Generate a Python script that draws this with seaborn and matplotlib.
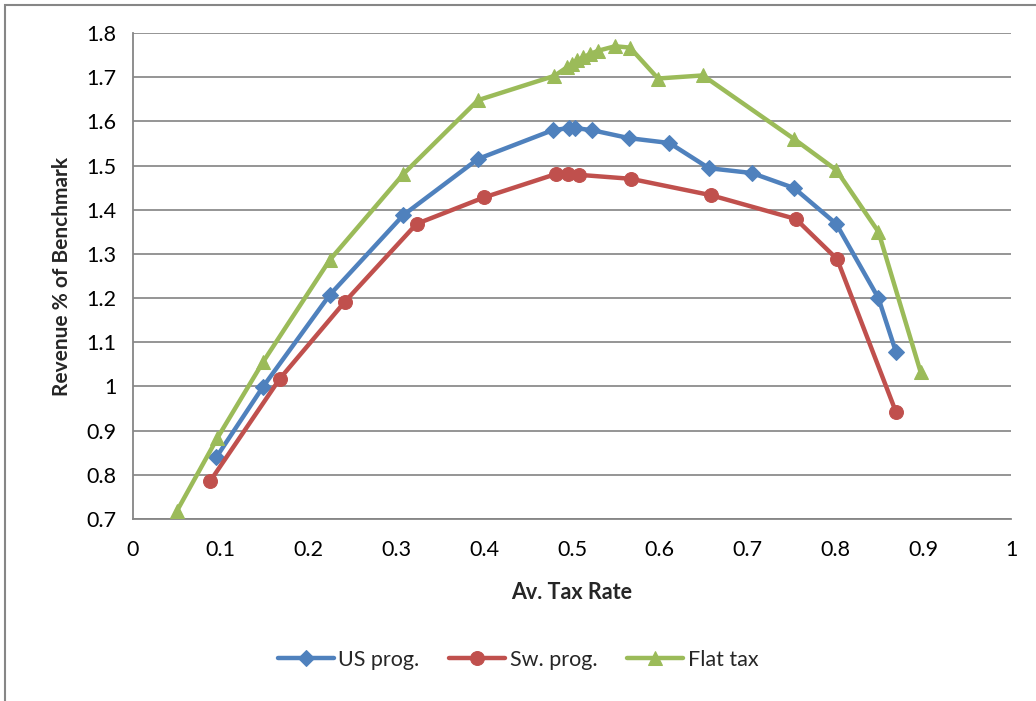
import numpy as np
import pandas as pd
import matplotlib
matplotlib.use("Agg")
import matplotlib.pyplot as plt
import seaborn as sns
from matplotlib.patches import Rectangle

# Data
us_x = [0.095, 0.148, 0.224, 0.308, 0.393, 0.478, 0.497, 0.503, 0.523, 0.565,
        0.611, 0.656, 0.705, 0.753, 0.801, 0.849, 0.869]
us_y = [0.840, 0.999, 1.207, 1.388, 1.515, 1.580, 1.585, 1.585, 1.580, 1.562,
        1.551, 1.494, 1.483, 1.449, 1.368, 1.200, 1.078]

sw_x = [0.088, 0.167, 0.241, 0.323, 0.400, 0.482, 0.495, 0.508, 0.567, 0.658,
        0.755, 0.802, 0.869]
sw_y = [0.786, 1.017, 1.191, 1.368, 1.428, 1.481, 1.481, 1.479, 1.470, 1.433,
        1.379, 1.288, 0.942]

flat_x = [0.050, 0.096, 0.148, 0.224, 0.308, 0.393, 0.480, 0.494, 0.500, 0.506,
          0.513, 0.520, 0.530, 0.549, 0.566, 0.598, 0.649, 0.753, 0.801, 0.849,
          0.897]
flat_y = [0.718, 0.883, 1.055, 1.286, 1.481, 1.648, 1.703, 1.722, 1.730, 1.738,
          1.745, 1.752, 1.760, 1.770, 1.767, 1.697, 1.704, 1.560, 1.490, 1.350,
          1.033]

series_names = ["US prog.", "Sw. prog.", "Flat tax"]
x_ticks = [0, 0.1, 0.2, 0.3, 0.4, 0.5, 0.6, 0.7, 0.8, 0.9, 1]
x_labels = ["0", "0.1", "0.2", "0.3", "0.4", "0.5", "0.6", "0.7", "0.8", "0.9", "1"]
y_ticks = [0.7, 0.8, 0.9, 1.0, 1.1, 1.2, 1.3, 1.4, 1.5, 1.6, 1.7, 1.8]
y_labels = ["0.7", "0.8", "0.9", "1", "1.1", "1.2", "1.3", "1.4", "1.5", "1.6", "1.7", "1.8"]

df = pd.concat([
    pd.DataFrame({"x": us_x, "y": us_y, "Series": series_names[0]}),
    pd.DataFrame({"x": sw_x, "y": sw_y, "Series": series_names[1]}),
    pd.DataFrame({"x": flat_x, "y": flat_y, "Series": series_names[2]}),
])

sns.set_style("white")
plt.rcParams["font.family"] = ["Lato", "DejaVu Sans"]

palette = {"US prog.": "#4F81BD", "Sw. prog.": "#C0504D", "Flat tax": "#9BBB59"}
markers = {"US prog.": "D", "Sw. prog.": "o", "Flat tax": "^"}
msizes = {"US prog.": 8, "Sw. prog.": 10, "Flat tax": 10}

fig = plt.figure(figsize=(10.36, 7.01), dpi=100)
ax = fig.add_axes([133 / 1036, 1 - 519 / 701, 878 / 1036, 486 / 701])

for name in series_names:
    sub = df[df["Series"] == name]
    sns.lineplot(data=sub, x="x", y="y", ax=ax, color=palette[name],
                 marker=markers[name], markersize=msizes[name],
                 markeredgecolor=palette[name], linewidth=3.2,
                 estimator=None, sort=False, label=name, zorder=3)

ax.set_xlim(0, 1)
ax.set_ylim(0.7, 1.8)
ax.set_xticks(x_ticks)
ax.set_xticklabels(x_labels)
ax.set_yticks(y_ticks)
ax.set_yticklabels(y_labels)
ax.tick_params(axis="both", labelsize=15.5, direction="out", length=5,
               width=1, color="#868686", labelcolor="black")
ax.tick_params(axis="x", pad=10)
ax.tick_params(axis="y", pad=7)
ax.yaxis.grid(True, color="#8c8c8c", linewidth=1.3)
ax.xaxis.grid(False)
for side in ["top", "right"]:
    ax.spines[side].set_visible(False)
for side in ["left", "bottom"]:
    ax.spines[side].set_color("#868686")
    ax.spines[side].set_linewidth(1.3)

ax.set_xlabel("Av. Tax Rate", fontsize=15.5, fontweight="bold", labelpad=16)
ax.set_ylabel("Revenue % of Benchmark", fontsize=15, fontweight="bold", labelpad=10)

handles, labels = ax.get_legend_handles_labels()
ax.legend_.remove()
fig.legend(handles, labels, loc="center", bbox_to_anchor=(0.5, 1 - 660 / 701),
           ncol=3, frameon=False, fontsize=15.5, handlelength=2.6,
           columnspacing=1.4, handletextpad=0.2)

# outer chart border
fig.patches.append(Rectangle((5 / 1036, -0.05), 1.2, 1 - 5 / 701 + 0.05,
                             transform=fig.transFigure, fill=False,
                             edgecolor="#868686", linewidth=1.5))

fig.savefig("out.png", dpi=100)
